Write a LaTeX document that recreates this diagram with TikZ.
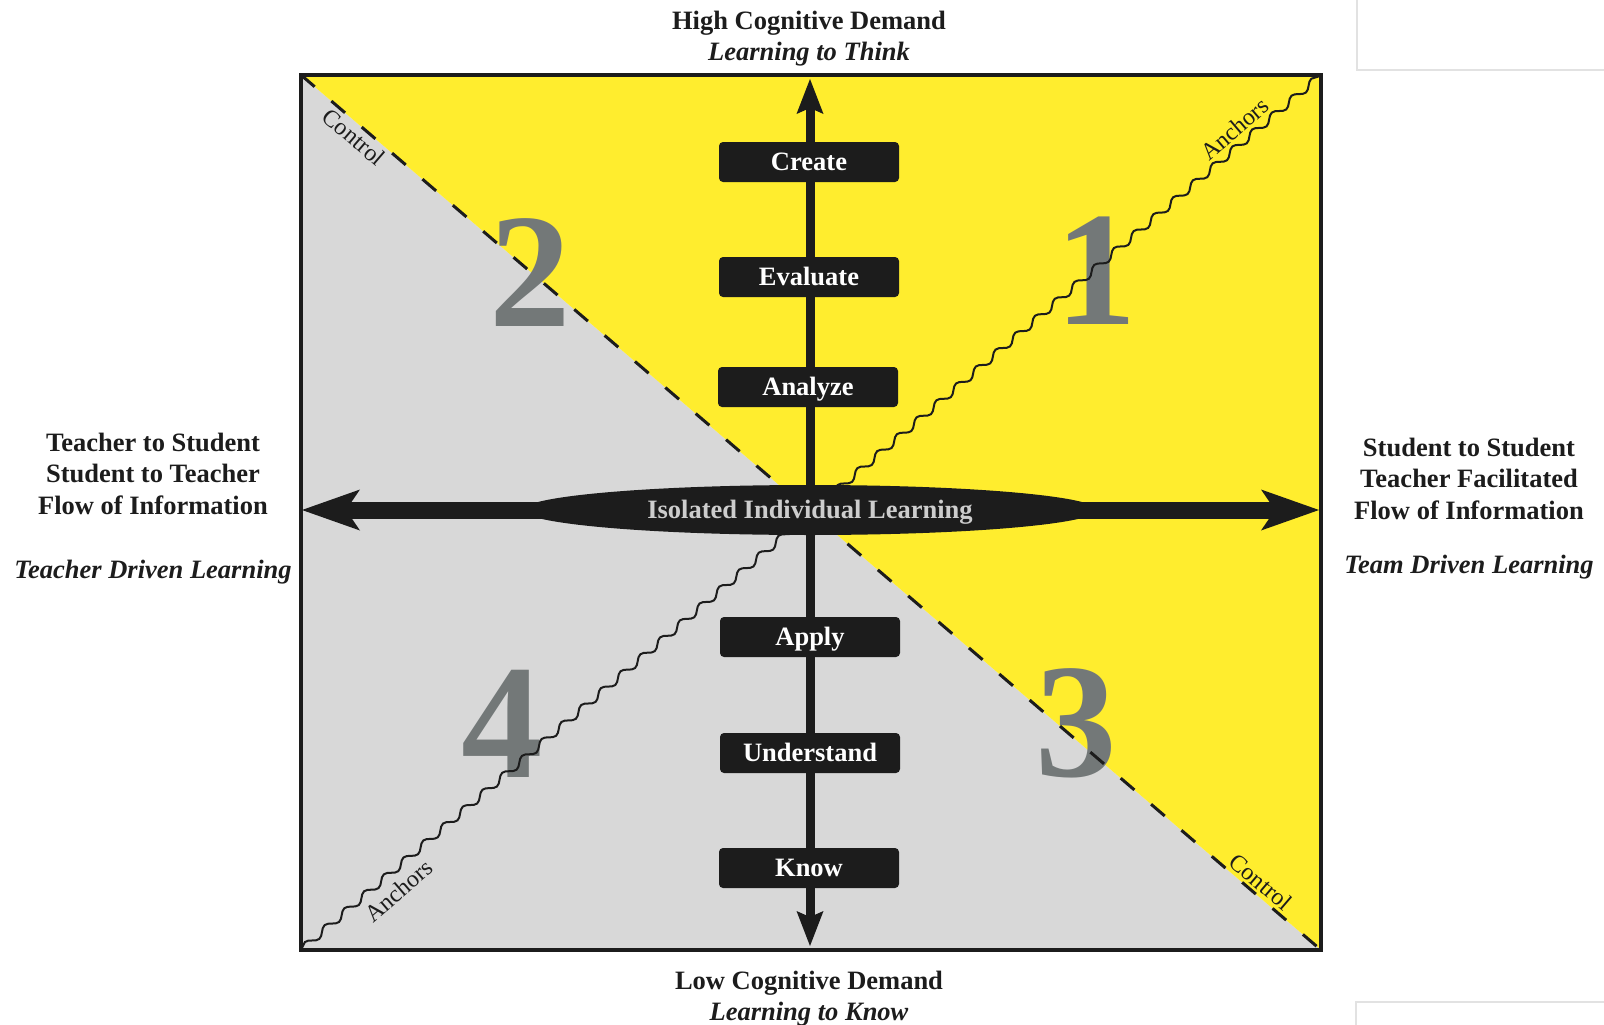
\documentclass[tikz,border=0pt]{standalone}
\usepackage{fontspec}
\setmainfont{Liberation Serif}
\usetikzlibrary{decorations.pathmorphing, arrows.meta, shapes.geometric}

\definecolor{hiyellow}{RGB}{255,237,46}
\definecolor{lowgray}{RGB}{216,216,216}
\definecolor{ink}{RGB}{28,28,28}
\definecolor{numgray}{RGB}{115,120,120}
\definecolor{pale}{RGB}{205,205,205}
\definecolor{pageedge}{RGB}{226,226,226}

\tikzset{
  lbl/.style={text=ink, inner sep=0pt, align=center,
    font=\fontsize{26.5}{31.5}\selectfont\bfseries},
  lblit/.style={text=ink, inner sep=0pt,
    font=\fontsize{26.5}{31.5}\selectfont\bfseries\itshape},
  levelbox/.style={fill=ink, rounded corners=4pt, minimum width=180pt,
    minimum height=40pt, inner sep=0pt, text=white,
    text height=17.5pt, text depth=0pt,
    font=\fontsize{26.5}{31.5}\selectfont\bfseries},
  quadnum/.style={text=numgray, inner sep=0pt,
    font=\fontsize{163}{163}\selectfont\bfseries},
  diaglbl/.style={text=ink, sloped, inner sep=4pt,
    font=\fontsize{24}{24}\selectfont},
  anchorline/.style={draw=ink, line width=2pt, decorate,
    decoration={snake, segment length=26pt, amplitude=3.5pt}},
  controlline/.style={draw=ink, line width=3pt, dash pattern=on 18pt off 22pt},
  vtip/.tip={Stealth[length=35pt, width=27pt, inset=6pt, line width=0pt]},
  htip/.tip={Stealth[length=58pt, width=41pt, inset=14pt, line width=0pt]},
}

\begin{document}
\begin{tikzpicture}[x=1pt, y=-1pt]
\useasboundingbox (0,0) rectangle (1604,1025);

% corners of the grid
\coordinate (TL) at (301,75);
\coordinate (TR) at (1321,75);
\coordinate (BL) at (301,950);
\coordinate (BR) at (1321,950);

% faint page edges
\draw[pageedge, line width=1.5pt] (1357,0) -- (1357,70) -- (1604,70);
\draw[pageedge, line width=1.5pt] (1604,1002) -- (1356,1002) -- (1356,1025);

% two halves of the field
\fill[lowgray] (TL) -- (BL) -- (BR) -- cycle;
\fill[hiyellow] (TL) -- (TR) -- (BR) -- cycle;

% quadrant numbers
\node[quadnum] (q1) at (1096,271) {1};
\node[quadnum] (q2) at (530,273) {2};
\node[quadnum] (q3) at (1076,723) {3};
\node[quadnum] (q4) at (502,724) {4};

% diagonals
\draw[controlline] (TL) -- (BR);
\draw[anchorline] (BL) -- (TR);
\path (TL) -- (BR)
  node[diaglbl, pos=0.060, below] (ctlA) {Control}
  node[diaglbl, pos=0.933, above] (ctlB) {Control};
\path (BL) -- (TR)
  node[diaglbl, pos=0.084, below, inner sep=10pt] (ancA) {Anchors}
  node[diaglbl, pos=0.925, above, inner sep=6.5pt] (ancB) {Anchors};

% cognitive demand axis
\coordinate (vtop) at (810,79);
\coordinate (vbot) at (810,946);
\draw[ink, line width=9pt, {vtip}-{vtip}] (vbot) -- (vtop);

% flow of information axis
\coordinate (hleft) at (302,510);
\coordinate (hright) at (1319,510);
\draw[ink, line width=17pt, {htip}-{htip}] (hleft) -- (hright);

\node[ellipse, fill=ink, minimum width=574pt, minimum height=50pt,
  inner sep=0pt, text=pale, text height=17.5pt, text depth=0pt,
  font=\fontsize{26.5}{31.5}\selectfont\bfseries] (iso) at (810,510)
  {Isolated Individual Learning};

% levels
\node[levelbox] (create)   at (809,162) {Create};
\node[levelbox] (evaluate) at (809,277) {Evaluate};
\node[levelbox] (analyze)  at (808,387) {Analyze};
\node[levelbox] (apply)    at (810,637) {Apply};
\node[levelbox] (underst)  at (810,753) {Understand};
\node[levelbox] (know)     at (809,868) {Know};

% frame
\draw[ink, line width=4pt] (TL) rectangle (BR);

% outer labels
\node[lbl, anchor=base] (hiA) at (809,29.5) {High Cognitive Demand};
\node[lblit, anchor=base] (hiB) at (809,61) {Learning to Think};
\node[lbl, anchor=base] (loA) at (809,989) {Low Cognitive Demand};
\node[lblit, anchor=base] (loB) at (809,1020) {Learning to Know};

\node[lbl] (leftA) at (153,473.5)
  {Teacher to Student\\Student to Teacher\\Flow of Information};
\node[lblit, anchor=base] (leftB) at (153,578) {Teacher Driven Learning};

\node[lbl] (rightA) at (1469,478.5)
  {Student to Student\\Teacher Facilitated\\Flow of Information};
\node[lblit, anchor=base] (rightB) at (1469,573) {Team Driven Learning};
\end{tikzpicture}
\end{document}
